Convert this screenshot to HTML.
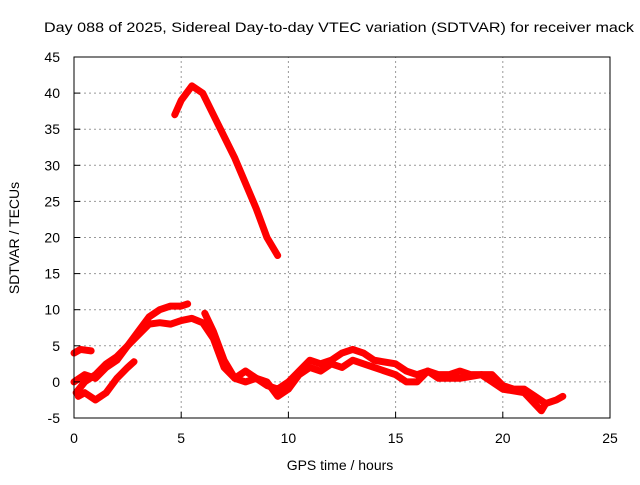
<!DOCTYPE html>
<html><head><meta charset="utf-8"><style>
body{margin:0;background:#fff;}
svg text{font-family:"Liberation Sans",sans-serif;font-size:14px;fill:#000;}
</style></head><body>
<svg id="c" width="640" height="480">
<text x="339" y="32" text-anchor="middle" textLength="590" lengthAdjust="spacingAndGlyphs">Day 088 of 2025, Sidereal Day-to-day VTEC variation (SDTVAR) for receiver mack</text>
<text x="340" y="470" text-anchor="middle">GPS time / hours</text>
<text transform="translate(19,238) rotate(-90)" text-anchor="middle">SDTVAR / TECUs</text>
<g id="grid"></g><g id="series"></g><g id="axes"></g>
</svg>
<script>
const xTicks=[0,5,10,15,20,25];
const yTicks=[-5,0,5,10,15,20,25,30,35,40,45];
const serA_x=[0,0.3,0.8], serA_y=[4,4.5,4.3];
const serB_x=[0.1,0.5,1,1.5,2,2.5,3,3.5,4,4.5,5,5.3];
const serB_y=[-1.5,0,1,2.5,3.5,5,7,9,10,10.5,10.5,10.8];
const serC_x=[0,0.5,1,1.5,2,2.5,3,3.5,4,4.5,5,5.5,6,6.5,7,7.5,8,8.5,9,9.5,10,10.5,11,11.5,12,12.5,13,13.5,14,15,15.5,16,16.5,17,17.5,18,18.5,19,19.5,20,20.5,21,21.5,22,22.5,22.8];
const serC_y=[0,1,0.5,2,3,5,6.5,8,8.2,8,8.5,8.8,8.2,6,2,0.5,0,0.5,-0.5,-1,0,1.5,3,2.5,3,4,4.5,4,3,2.5,1.5,1,1.5,1,1,1.5,1,1,1,-0.5,-1,-1,-2,-3,-2.5,-2];
const serD_x=[0.2,0.5,1,1.5,2,2.5,2.8], serD_y=[-2,-1.5,-2.5,-1.5,0.5,2,2.8];
const serE_x=[6.1,6.5,7,7.5,8,8.5,9,9.5,10,10.5,11,11.5,12,12.5,13,14,15,15.5,16,16.5,17,18,19,19.5,20,21,21.8,22];
const serE_y=[9.5,7,3,0.5,1.5,0.5,0,-2,-1,1,2,1.5,2.5,2,3,2,1,0,0,1.5,0.5,0.5,1,0,-1,-1.5,-4,-3];
const serF_x=[4.7,5,5.5,6,6.5,7,7.5,8,8.5,9,9.5];
const serF_y=[37,39,41,40,37,34,31,27.5,24,20,17.5];
const X=v=>74+v*(536/25), Y=v=>418-(v+5)*(361/50);
const NS='http://www.w3.org/2000/svg';
function mk(t,a,p){const e=document.createElementNS(NS,t);for(const k in a)e.setAttribute(k,a[k]);p.appendChild(e);return e;}
const g=document.getElementById('grid'),ax=document.getElementById('axes'),s=document.getElementById('series');
xTicks.forEach(t=>{
 if(t>0&&t<25){const l=mk('line',{x1:X(t),x2:X(t),y1:Y(-5),y2:Y(45),stroke:'#999','stroke-dasharray':'2,3'},g);
 }
 const tk=mk('line',{x1:X(t),x2:X(t),y1:Y(-5),y2:Y(-5)-6,stroke:'#000'},ax);
 
 const tx=mk('text',{x:X(t),y:443,'text-anchor':'middle'},ax);tx.textContent=t;
 
});
yTicks.forEach(t=>{
 if(t>-5&&t<45){const l=mk('line',{x1:X(0),x2:X(25),y1:Y(t),y2:Y(t),stroke:'#999','stroke-dasharray':'2,3'},g);
 }
 const tk=mk('line',{x1:X(0),x2:X(0)+6,y1:Y(t),y2:Y(t),stroke:'#000'},ax);
 
 const tx=mk('text',{x:60,y:Y(t)+5,'text-anchor':'end'},ax);tx.textContent=t;
 
});
const fr=mk('rect',{x:X(0),y:Y(45),width:X(25)-X(0),height:Y(-5)-Y(45),fill:'none',stroke:'#000'},ax);

[[serA_x,serA_y],[serB_x,serB_y],[serC_x,serC_y],[serD_x,serD_y],[serE_x,serE_y],[serF_x,serF_y]].forEach((d,i)=>{
 const pts=d[0].map((x,j)=>X(x)+','+Y(d[1][j])).join(' ');
 const p=mk('polyline',{points:pts,fill:'none',stroke:'#f00','stroke-width':7,'stroke-linejoin':'round','stroke-linecap':'round'},s);
 
 
});
</script>
</body></html>
